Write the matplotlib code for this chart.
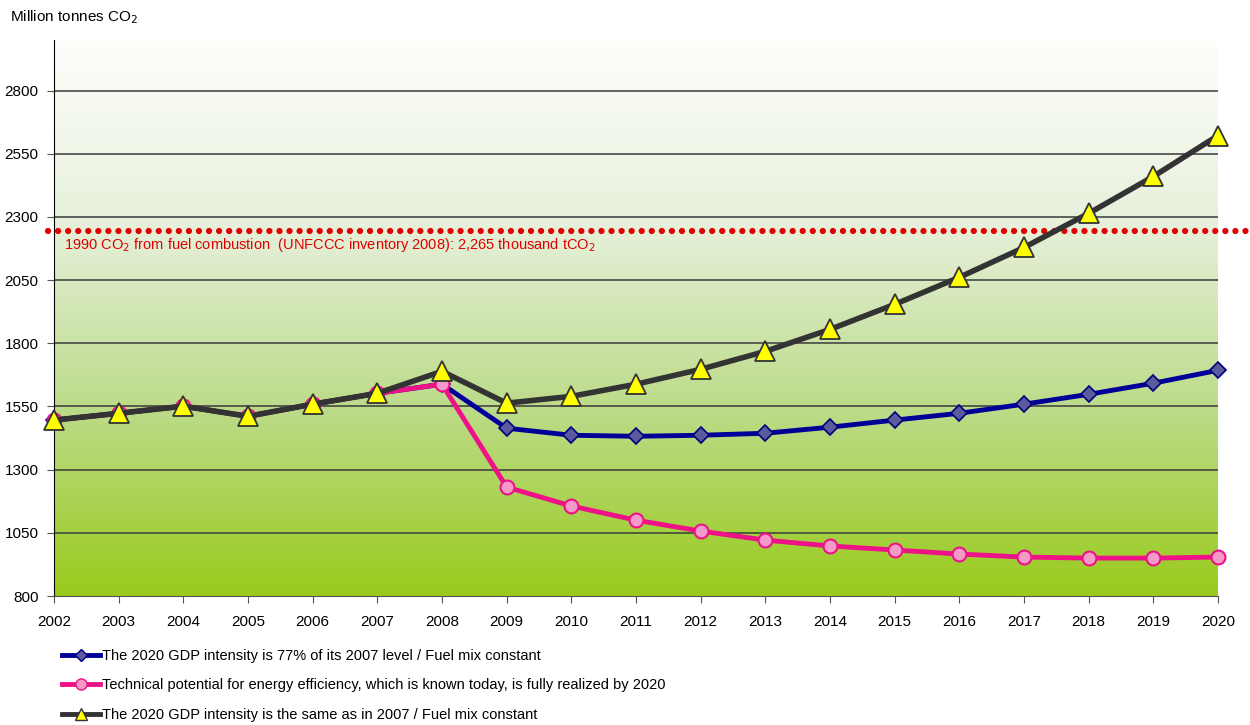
import numpy as np
import matplotlib
matplotlib.use('Agg')
import matplotlib.pyplot as plt
from matplotlib.colors import LinearSegmentedColormap
from matplotlib.lines import Line2D

plt.rcParams['font.family'] = ['Liberation Sans Narrow', 'Liberation Sans', 'DejaVu Sans']

years = list(range(2002, 2021))

# The 2020 GDP intensity is 77% of its 2007 level
gdp77 = [1496, 1523, 1551, 1511, 1559, 1602, 1638, 1464, 1436, 1432, 1436,
         1444, 1468, 1496, 1523, 1559, 1598, 1642, 1693]
# Technical potential for energy efficiency
eff = [1496, 1523, 1551, 1511, 1559, 1602, 1638, 1231, 1156, 1100, 1057,
       1021, 998, 982, 966, 954, 950, 950, 954]
# The 2020 GDP intensity same as 2007
same = [1496, 1523, 1551, 1511, 1559, 1602, 1689, 1563, 1590, 1638, 1697,
        1768, 1855, 1954, 2061, 2179, 2314, 2460, 2622]

level_1990 = 2245
yticks = [800, 1050, 1300, 1550, 1800, 2050, 2300, 2550, 2800]

labels = [
    'The 2020 GDP intensity is 77% of its 2007 level / Fuel mix constant',
    'Technical potential for energy efficiency, which is known today, is fully realized by 2020',
    'The 2020 GDP intensity is the same as in 2007 / Fuel mix constant',
]

fig = plt.figure(figsize=(12.5, 7.25), dpi=100)
ax = fig.add_axes([54 / 1250, 1 - 596 / 725, (1218 - 54) / 1250, (596 - 40) / 725])

# background gradient: white at top, yellow-green at bottom
cmap = LinearSegmentedColormap.from_list('bg', ['#fefefc', '#e6f0da', '#bcdb88', '#99cb1c'])
grad = np.linspace(1, 0, 256).reshape(-1, 1)
ax.imshow(grad, aspect='auto', cmap=cmap, extent=[2002, 2020, 800, 3000],
          origin='lower', zorder=0)

ax.set_xlim(2002, 2020)
ax.set_ylim(800, 3000)

for y in yticks[1:]:
    ax.axhline(y, color='#3a3a3a', lw=1.1, zorder=1)

ax.plot(years, gdp77, color='#000099', lw=3.5, marker='D', ms=8,
        mfc='#5a5a9c', mec='#000080', mew=1.2, zorder=3, clip_on=False)
ax.plot(years, eff, color='#ee1188', lw=3.5, marker='o', ms=10,
        mfc='#f49ac8', mec='#ee1188', mew=1.5, zorder=4, clip_on=False)
ax.plot(years, same, color='#333333', lw=4, marker='^', ms=14,
        mfc='#ffff00', mec='#333333', mew=1.3, zorder=5, clip_on=False)

# 1990 reference line extends past the plot area
ax.plot([2001.9, 2020.45], [level_1990, level_1990], color='#e00000', lw=4.5,
        ls=(0, (0.01, 1.6)), dash_capstyle='round', zorder=2, clip_on=False)
ax.text(2002.15, level_1990 - 22,
        '1990 CO$_2$ from fuel combustion  (UNFCCC inventory 2008): 2,265 thousand tCO$_2$',
        color='#e00000', fontsize=10.5, va='top', ha='left', zorder=6)

ax.set_xticks(years)
ax.set_xticklabels([str(y) for y in years], fontsize=11)
ax.set_yticks(yticks)
ax.set_yticklabels([str(y) for y in yticks], fontsize=11)
ax.tick_params(axis='both', direction='out', length=5, color='#555555', pad=6)
ax.tick_params(axis='x', pad=9)

for s in ['top', 'right']:
    ax.spines[s].set_visible(False)
ax.spines['left'].set_color('black')
ax.spines['bottom'].set_color('#555555')

fig.text(10 / 1250, 1 - 17 / 725, 'Million tonnes CO$_2$', fontsize=11, va='center', ha='left')

handles = [
    Line2D([], [], color='#000099', lw=3.5, marker='D', ms=6, mfc='#5a5a9c', mec='#000080'),
    Line2D([], [], color='#ee1188', lw=3.5, marker='o', ms=8, mfc='#f49ac8', mec='#ee1188'),
    Line2D([], [], color='#333333', lw=3.5, marker='^', ms=8, mfc='#ffff00', mec='#333333'),
]
fig.legend(handles, labels, loc='upper left', bbox_to_anchor=(62 / 1250, 1 - 649 / 725),
           frameon=False, fontsize=10.5, handlelength=2.6, handletextpad=0.15,
           labelspacing=1.05, borderaxespad=0, borderpad=0)

fig.savefig('out.png', dpi=100)
